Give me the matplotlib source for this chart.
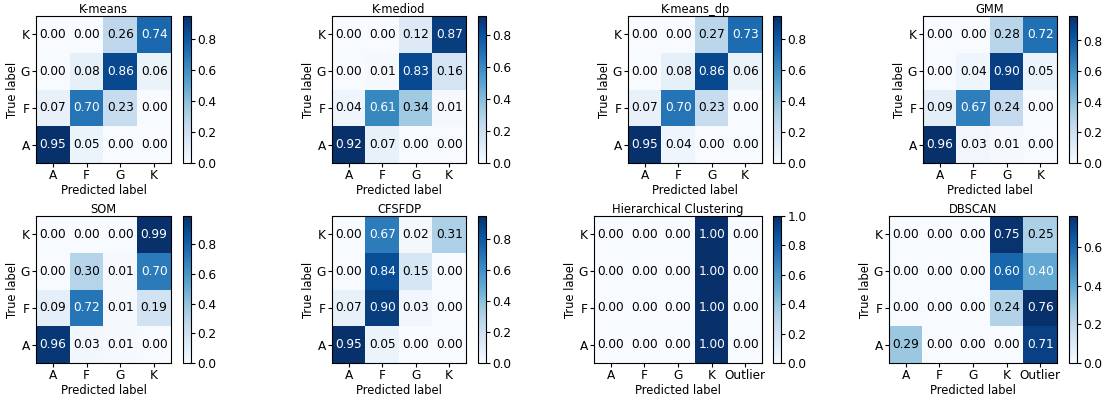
import numpy as np
import matplotlib
matplotlib.use('Agg')
import matplotlib.pyplot as plt

# class order along each axis (rows = true label, cols = predicted label)
true_classes = ['A', 'F', 'G', 'K']
pred_classes = ['A', 'F', 'G', 'K']
pred_classes_outlier = ['A', 'F', 'G', 'K', 'Outlier']

titles = ['K-means', 'K-mediod', 'K-means_dp', 'GMM',
          'SOM', 'CFSFDP', 'Hierarchical Clustering', 'DBSCAN']

# normalised confusion matrices, rows ordered A, F, G, K
kmeans = [[0.95, 0.05, 0.00, 0.00],
          [0.07, 0.70, 0.23, 0.00],
          [0.00, 0.08, 0.86, 0.06],
          [0.00, 0.00, 0.26, 0.74]]
kmediod = [[0.92, 0.07, 0.00, 0.00],
           [0.04, 0.61, 0.34, 0.01],
           [0.00, 0.01, 0.83, 0.16],
           [0.00, 0.00, 0.12, 0.87]]
kmeans_dp = [[0.95, 0.04, 0.00, 0.00],
             [0.07, 0.70, 0.23, 0.00],
             [0.00, 0.08, 0.86, 0.06],
             [0.00, 0.00, 0.27, 0.73]]
gmm = [[0.96, 0.03, 0.01, 0.00],
       [0.09, 0.67, 0.24, 0.00],
       [0.00, 0.04, 0.90, 0.05],
       [0.00, 0.00, 0.28, 0.72]]
som = [[0.96, 0.03, 0.01, 0.00],
       [0.09, 0.72, 0.01, 0.19],
       [0.00, 0.30, 0.01, 0.70],
       [0.00, 0.00, 0.00, 0.99]]
cfsfdp = [[0.95, 0.05, 0.00, 0.00],
          [0.07, 0.90, 0.03, 0.00],
          [0.00, 0.84, 0.15, 0.00],
          [0.00, 0.67, 0.02, 0.31]]
hierarchical = [[0.00, 0.00, 0.00, 1.00, 0.00],
                [0.00, 0.00, 0.00, 1.00, 0.00],
                [0.00, 0.00, 0.00, 1.00, 0.00],
                [0.00, 0.00, 0.00, 1.00, 0.00]]
dbscan = [[0.29, 0.00, 0.00, 0.00, 0.71],
          [0.00, 0.00, 0.00, 0.24, 0.76],
          [0.00, 0.00, 0.00, 0.60, 0.40],
          [0.00, 0.00, 0.00, 0.75, 0.25]]

matrices = [kmeans, kmediod, kmeans_dp, gmm, som, cfsfdp, hierarchical, dbscan]
col_labels = [pred_classes] * 6 + [pred_classes_outlier] * 2

W, H = 1105, 403
fig = plt.figure(figsize=(W / 100, H / 100), dpi=100)

# panel boxes in pixels: (img_left, img_right, cbar_left, cbar_right)
col_boxes = [(36, 171, 183, 190.5), (332, 466, 478, 486),
             (628, 762, 773, 781), (923, 1057, 1069, 1077),
             (36, 171, 183, 190.5), (332, 466, 478, 486),
             (594, 762, 773, 781), (889, 1057, 1069, 1077)]
row_tops = [(16, 163), (216, 363)]

cmap = plt.get_cmap('Blues')


def px_rect(x0, x1, y0, y1):
    return [x0 / W, 1 - y1 / H, (x1 - x0) / W, (y1 - y0) / H]


for i, (cm, title, cols) in enumerate(zip(matrices, titles, col_labels)):
    cm = np.array(cm)
    x0, x1, c0, c1 = col_boxes[i]
    y0, y1 = row_tops[i // 4]
    ax = fig.add_axes(px_rect(x0, x1, y0, y1))
    cax = fig.add_axes(px_rect(c0, c1, y0, y1))

    im = ax.imshow(cm, cmap=cmap, origin='lower', aspect='auto',
                   vmin=cm.min(), vmax=cm.max())
    thresh = (cm.max() + cm.min()) / 2.0
    for r in range(cm.shape[0]):
        for c in range(cm.shape[1]):
            color = 'white' if cm[r, c] >= thresh else 'black'
            ax.text(c, r, f'{cm[r, c]:.2f}', ha='center', va='center',
                    color=color, fontsize=8.7)

    ax.set_xticks(range(len(cols)))
    ax.set_xticklabels(cols, fontsize=8.7)
    ax.set_yticks(range(len(true_classes)))
    ax.set_yticklabels(true_classes, fontsize=8.7)
    ax.tick_params(length=3, pad=1.5)
    ax.set_xlabel('Predicted label', fontsize=8.3, labelpad=1)
    ax.set_ylabel('True label', fontsize=8.3, labelpad=1)
    ax.set_title(title, fontsize=8.3, pad=2)

    cb = fig.colorbar(im, cax=cax)
    cb.ax.tick_params(labelsize=8.7, length=3, pad=1.5)
    cb.outline.set_linewidth(0.8)

fig.savefig('out.png', dpi=100)
